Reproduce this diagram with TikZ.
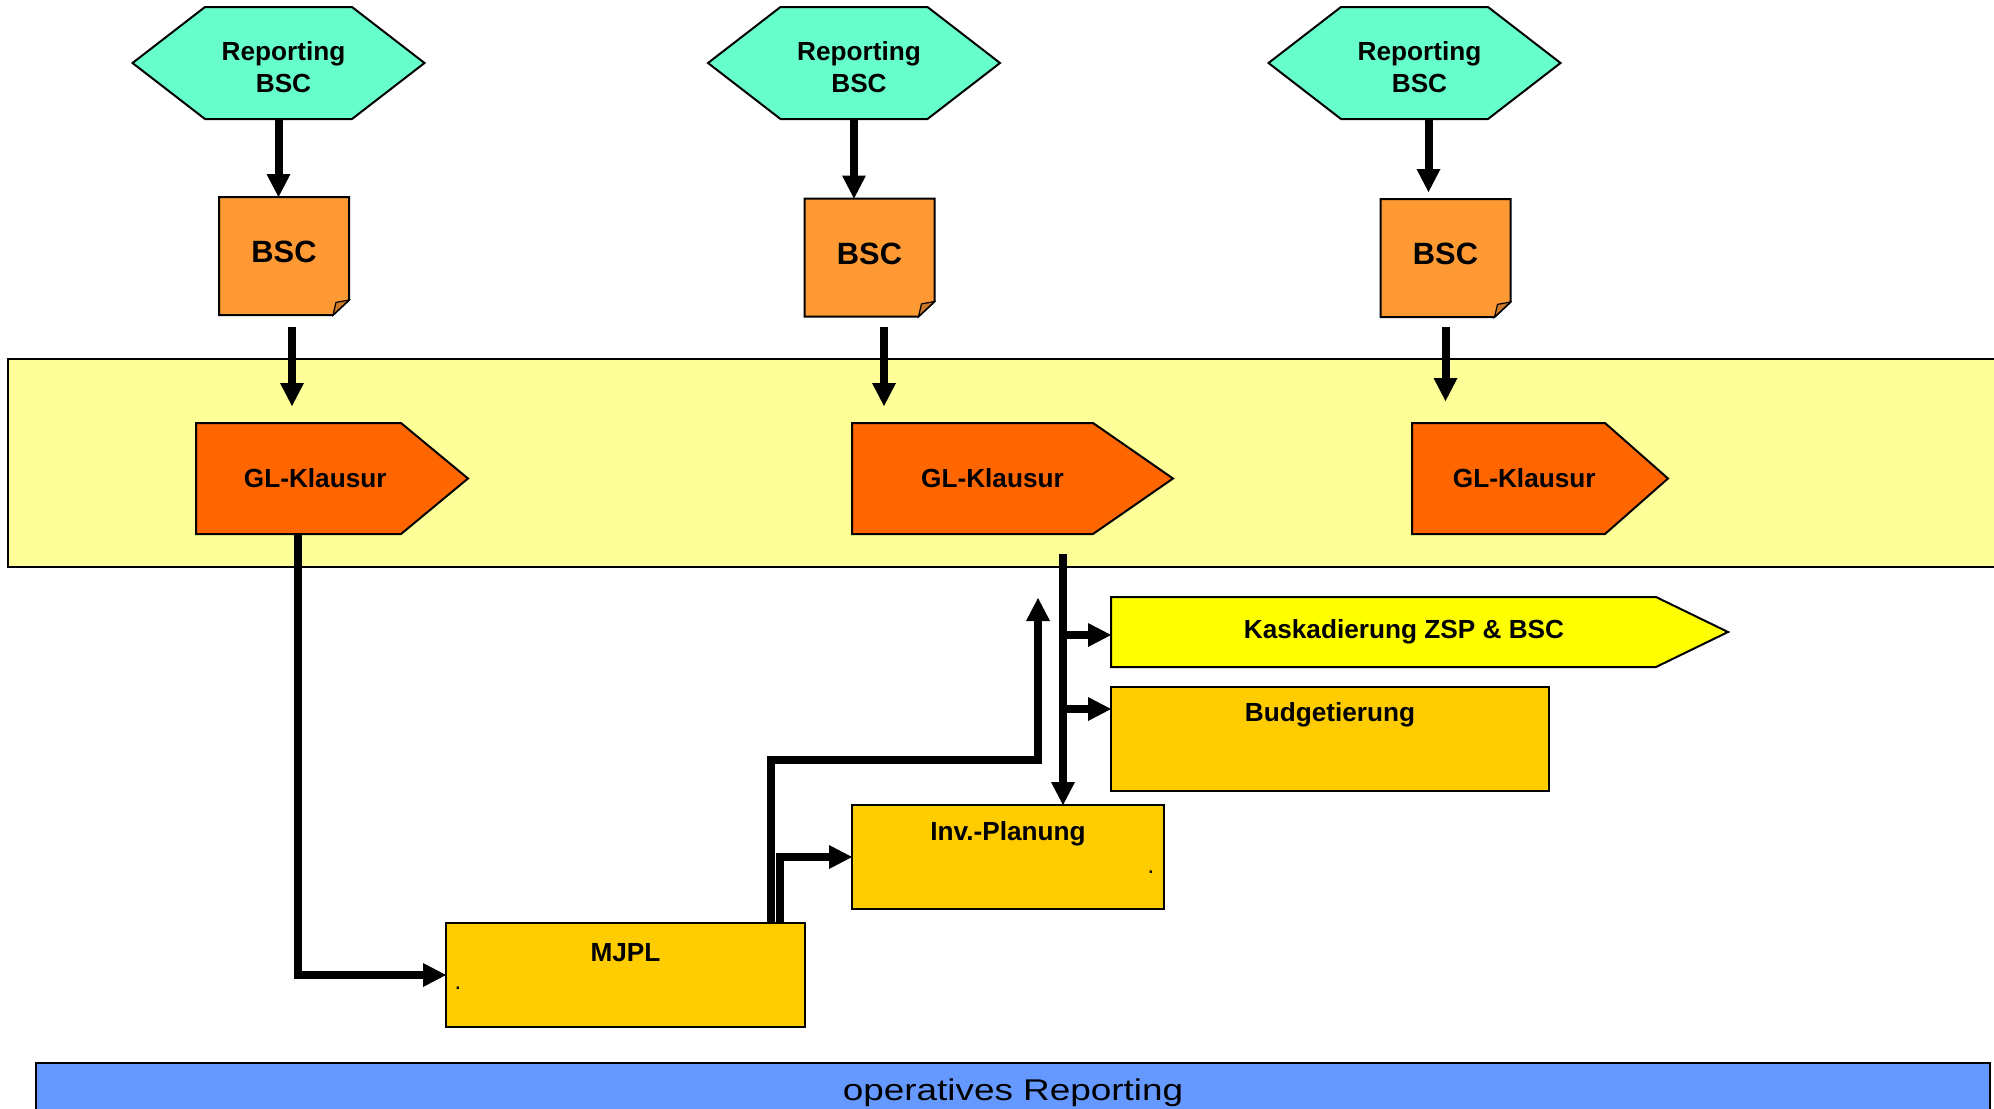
\documentclass[tikz,border=0pt]{standalone}
\usepackage{fontspec}
\setmainfont{Liberation Sans}
\usepackage{graphicx}
\usetikzlibrary{arrows.meta}

\definecolor{hexc}{HTML}{66FFCC}
\definecolor{bscc}{HTML}{FF9933}
\definecolor{glc}{HTML}{FF6600}
\definecolor{bandc}{HTML}{FFFF99}
\definecolor{kaskc}{HTML}{FFFF00}
\definecolor{boxc}{HTML}{FFCC00}
\definecolor{barc}{HTML}{6699FF}

\pgfdeclarelayer{bandlayer}
\pgfdeclarelayer{shapelayer}
\pgfsetlayers{bandlayer,shapelayer,main}

% pointed banner: #1 node, #2 half of the point length, #3 fill colour
\newcommand\pentout[3]{%
  \filldraw[outl,fill=#3] (#1.north west) -- ([xshift=-#2]#1.north east)
    -- ([xshift=#2]#1.east) -- ([xshift=-#2]#1.south east)
    -- (#1.south west) -- cycle;}
% hexagon around the body node #1
\newcommand\hexout[1]{%
  \filldraw[outl,fill=hexc] ([xshift=-2.5pt]#1.north west) -- ([xshift=-2.5pt]#1.north east)
    -- ([xshift=33.75pt]#1.east) -- ([xshift=-2.5pt]#1.south east) -- ([xshift=-2.5pt]#1.south west)
    -- ([xshift=-38.75pt]#1.west) -- cycle;}
% note sheet with a turned-up corner
\newcommand\noteout[1]{%
  \filldraw[outl,fill=bscc] (#1.north west) -- (#1.north east)
    -- ([yshift=7.5pt]#1.south east) -- ([xshift=-8pt]#1.south east)
    -- (#1.south west) -- cycle;
  \filldraw[line width=0.6pt,fill=bscc!80!black] ([yshift=7.5pt]#1.south east)
    -- ([xshift=-8pt]#1.south east) -- ([xshift=-6.5pt,yshift=6.3pt]#1.south east) -- cycle;}

\begin{document}
\begin{tikzpicture}[x=0.5pt,y=-0.5pt,
  outl/.style={draw=black,line width=1pt},
  lbl/.style={font=\fontsize{13.1pt}{16pt}\selectfont\bfseries},
  body/.style={inner sep=0pt,outer sep=0pt,align=center},
  hexnode/.style={body,lbl,minimum width=73.5pt,minimum height=56pt,
    text height=42.5pt,text depth=13.5pt},
  notenode/.style={body,font=\fontsize{15.4pt}{18pt}\selectfont\bfseries,
    minimum width=65pt,minimum height=59pt,text height=32.85pt,text depth=26.15pt},
  glnode/.style={body,lbl,minimum height=55.5pt},
  boxnode/.style={body,lbl,outl,fill=boxc,minimum height=52pt},
  dotnode/.style={inner sep=0pt,font=\fontsize{12pt}{14pt}\selectfont},
  arr/.style={line width=4pt,-{Triangle[width=12pt,length=11.5pt,line width=0pt]}}]

\useasboundingbox (0,0) rectangle (1994,1109);

% planning band and reporting bar
\begin{pgfonlayer}{bandlayer}
  \node[body,outl,fill=bandc,minimum width=1001pt,minimum height=104pt] (band) at (1009,463) {};
\end{pgfonlayer}
\node[body,outl,line width=1.2pt,fill=barc,minimum width=977pt,minimum height=40pt,
  text height=18.5pt,text depth=21.5pt,font=\fontsize{15pt}{18pt}\selectfont] (oprep) at (1013,1103)
  {\scalebox{1.23}[1]{operatives Reporting}};

% reporting hexagons (text sits a little right of the shape centre)
\node[hexnode] (hex1) at (283.5,63) {Reporting\\BSC};
\node[hexnode] (hex2) at (859,63) {Reporting\\BSC};
\node[hexnode] (hex3) at (1419.5,63) {Reporting\\BSC};

% scorecards
\node[notenode] (bsc1) at (284,256) {BSC};
\node[notenode] (bsc2) at (869.5,257.5) {BSC};
\node[notenode] (bsc3) at (1445.5,258) {BSC};

% management retreats
\node[glnode,minimum width=119.25pt] (gl1) at (315.25,478.5) {GL-Klausur};
\node[glnode,minimum width=140.5pt] (gl2) at (992.5,478.5) {GL-Klausur};
\node[glnode,minimum width=112.25pt] (gl3) at (1524.25,478.5) {GL-Klausur};

% planning steps
\node[glnode,minimum width=290.5pt,minimum height=35pt] (kask) at (1404,632) {Kaskadierung ZSP \& BSC};
\node[boxnode,minimum width=219pt,text height=17pt,text depth=35pt] (budget) at (1330,739) {Budgetierung};
\node[boxnode,minimum width=156pt,text height=17.5pt,text depth=34.5pt] (inv) at (1008,857) {Inv.-Planung};
\node[boxnode,minimum width=179.5pt,text height=19.35pt,text depth=32.65pt] (mjpl) at (625.5,975) {MJPL};
\node[dotnode] (invdot) at (1151,872) {.};
\node[dotnode] (mjpldot) at (458,988) {.};

\begin{pgfonlayer}{shapelayer}
  \hexout{hex1}\hexout{hex2}\hexout{hex3}
  \noteout{bsc1}\noteout{bsc2}\noteout{bsc3}
  \pentout{gl1}{16.75pt}{glc}
  \pentout{gl2}{20pt}{glc}
  \pentout{gl3}{15.75pt}{glc}
  \filldraw[outl,fill=kaskc] ([xshift=-1.25pt]kask.north west) -- ([xshift=-19.25pt]kask.north east)
    -- ([xshift=16.75pt]kask.east) -- ([xshift=-19.25pt]kask.south east)
    -- ([xshift=-1.25pt]kask.south west) -- cycle;
\end{pgfonlayer}

% reporting feeds the scorecards
\draw[arr] ([xshift=-2.5pt]hex1.south) -- ([xshift=-2.5pt]hex1.south |- bsc1.north);
\draw[arr] ([xshift=-2.5pt]hex2.south) -- ([xshift=-2.5pt]hex2.south |- bsc2.north);
\draw[arr,shorten >=3.5pt] ([xshift=4.5pt]hex3.south) -- ([xshift=4.5pt]hex3.south |- bsc3.north);

% scorecards feed the retreats
\draw[arr,shorten <=6pt,shorten >=8.5pt] ([xshift=4pt]bsc1.south) -- ([xshift=4pt]bsc1.south |- gl1.north);
\draw[arr,shorten <=5pt,shorten >=8.5pt] ([xshift=7.25pt]bsc2.south) -- ([xshift=7.25pt]bsc2.south |- gl2.north);
\draw[arr,shorten <=5pt,shorten >=11pt] (bsc3.south) -- (bsc3.south |- gl3.north);

% first retreat to the mid-term plan
\draw[arr] ([xshift=51pt]gl1.south west) |- (mjpl.west);

% second retreat to the planning steps
\coordinate (trunk) at ([xshift=105.5pt,yshift=-10pt]gl2.south west);
\coordinate (bin) at ([yshift=-11pt]budget.north west);
\coordinate (kin) at ([xshift=-1.25pt,yshift=-1.5pt]kask.west);
\draw[arr] (trunk) -- (trunk |- inv.north);
\draw[arr] (trunk |- kin) -- (kin);
\draw[arr] (trunk |- bin) -- (bin);

% mid-term plan back up and into the investment plan
\coordinate (bend) at (1038,760);
\coordinate (upend) at (1038,598);
\draw[arr] ([xshift=162.5pt]mjpl.north west) |- (bend) -- (upend);
\draw[arr] ([xshift=167pt]mjpl.north west) |- (inv.west);

\end{tikzpicture}
\end{document}
